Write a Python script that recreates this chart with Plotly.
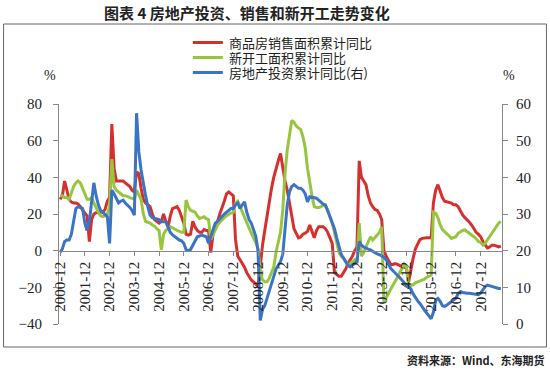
import plotly.graph_objects as go

# ---- data (Feb..Dec per year; Jan is merged into Feb in the source data) ----
years = list(range(2001, 2018))
months_2018 = list(range(2, 11))

sales_area = [
    28,                                                        # 2000-12
    30, 38, 32, 28, 26.5, 26, 26, 25.5, 24, 22, 20.5,          # 2001
    19, 5, 17, 20, 20.7, 20.7, 20.7, 21, 22.5, 27, 29,         # 2002
    69, 45, 38, 38, 38, 38, 37, 36, 35, 33, 32,                # 2003
    43, 42, 34, 28, 26, 25, 24, 20, 17, 16, 15,                # 2004
    16, 20, 16, 13, 19, 23, 23.5, 24, 22, 19, 15,              # 2005
    9, 8.5, 9, 16, 13, 11, 10, 10, 11.5, 11, 11,               # 2006
    -1, 9, 12, 16, 20, 23, 27, 31, 32, 31, 30,                 # 2007
    6, -3, -5, -7, -9, -12, -14, -16, -17, -18, -20,           # 2008
    -8, 3, 11, 19, 28, 34, 40, 45, 49, 53, 44,                 # 2009
    38, 33, 27, 19, 12, 9, 7, 7.5, 9, 9.5, 10.5,               # 2010
    14, 11, 7, 11, 13, 13, 13, 12, 10, 7, 4,                   # 2011
    -12, -13, -14, -14, -12, -10, -7, -5, -3, 0, 2,            # 2012
    49, 40, 38, 36, 30, 26, 24, 22.5, 22, 20, 17,              # 2013
    0, -3, -5.5, -7.5, -7.5, -7, -7.5, -8.3, -8.7, -9, -9.6,   # 2014
    -17, -10, -4, 1, 4, 6, 6.7, 7, 7, 7, 7,                    # 2015
    26, 33, 36, 32, 29, 27, 26.7, 26.5, 26, 25, 25,            # 2016
    24, 21.5, 19.5, 18, 17, 15.5, 14, 12, 10, 9, 7.6,          # 2017
    5, 3.5, 1.5, 2, 3, 3, 2.5, 2, 2.5,                         # 2018
]

new_starts = [
    30,                                                        # 2000-12
    30, 29, 29, 28, 32, 35, 37, 38, 37, 34, 31,                # 2001
    28, 28, 29, 26, 23, 21, 19, 18.5, 19, 20, 24,              # 2002
    50, 35, 33, 32, 31, 30, 30, 29.5, 29, 28.5, 28,            # 2003
    33, 30, 28, 20, 16, 15.5, 15, 14, 13.4, 12, 11,            # 2004
    0.5, 9, 11, 12, 13, 12.5, 11.5, 11, 10.5, 10, 10,          # 2005
    27.6, 24, 22, 21.5, 21, 19, 17.6, 18, 18.5, 17.5, 17,      # 2006
    6, 9, 12, 14, 15.5, 17, 18, 19, 20, 20.5, 21,              # 2007
    26, 27, 24, 21, 17.5, 14.5, 12, 9.5, 7, 4.5, 1,            # 2008
    -11, -16, -17, -17, -15, -12, -9, -1, 5, 10, 22,           # 2009
    42, 55, 64, 71, 70, 68, 67, 66, 62, 56, 45,                # 2010
    37, 30, 24, 23.5, 23.5, 24, 25, 24, 22, 19, 15,            # 2011
    10, 4, -1, -3, -4, -6, -8, -7, -6, -5, -7,                 # 2012
    15, -3, -1, 2, 5, 7.6, 5.8, 7, 8.5, 10, 13,                # 2013
    -27.8, -26, -23.5, -21, -19, -16.5, -14.5, -12, -9.5, -7.5, -9,  # 2014
    -20, -19, -18.5, -17.5, -17, -16.5, -16, -15.5, -14.5, -14, -13.3,  # 2015
    21, 20.5, 18, 14, 11.5, 10.4, 9.5, 8, 6.7, 7, 7.6,         # 2016
    9.5, 10.4, 11, 11.3, 10.5, 9.5, 8.5, 7.6, 6.5, 5, 4.5,     # 2017
    3, 4, 5.8, 7.5, 9, 11, 13, 15, 16,                         # 2018
]

investment = [
    19.5,                                                      # 2000-12
    20.5, 22.5, 22.9, 22.9, 24.5, 28, 31.5, 32, 31.8, 31.5, 27.5,   # 2001
    25.5, 28, 34, 38.5, 35, 32.5, 31, 30.5, 30, 29.3, 22,      # 2002
    36.5, 35.5, 34, 33, 33.5, 33.8, 33, 32.5, 31.8, 31, 29.7,  # 2003
    57.5, 47, 42, 38, 35, 32, 29.7, 29, 28.8, 28.8, 28.5,      # 2004
    27.9, 27.9, 27.9, 26.5, 25, 24.3, 23.8, 23.3, 22.9, 22.7, 22,   # 2005
    20.3, 20, 20.3, 21.5, 23, 23.8, 24, 24.3, 24, 23.8, 22,    # 2006
    24, 25.5, 27.5, 28, 28.8, 29.3, 30, 30.5, 31, 31.5, 31.5,  # 2007
    32.5, 33, 31.5, 32.5, 33.3, 30.5, 28.5, 27.5, 25.5, 24, 20,     # 2008
    1, 4, 5, 7, 9, 11.5, 13.5, 15, 16, 17, 19,                 # 2009
    27, 32.5, 36, 37.5, 38, 37.5, 37, 37, 36.5, 35.5, 33.3,    # 2010
    34.7, 34.5, 34.3, 34.3, 33.8, 33.3, 32.7, 32.5, 31, 29.5, 27.9, # 2011
    26, 23.5, 21, 19, 18, 17, 16, 15.6, 16, 16.5, 17,          # 2012
    22.5, 21.5, 21, 20.6, 20.4, 20.2, 19.8, 19.4, 19.1, 18.9, 18.6, # 2013
    18.2, 17.5, 16.3, 15.2, 14.5, 14, 13.3, 12.7, 12, 11.2, 10.6,   # 2014
    10.2, 9.5, 8.2, 7.1, 6.3, 5.6, 4.6, 3.8, 3, 2.2, 1.4,      # 2015
    3.2, 6.5, 7, 6.2, 5, 4.8, 5.2, 5.7, 6.2, 6.6, 7,           # 2016
    8.3, 8.8, 8.6, 8.4, 8.4, 8.4, 8.3, 8.1, 7.9, 8, 8.4,       # 2017
    9.5, 10.2, 10.6, 10.4, 10.2, 10, 9.8, 9.7, 9.7,            # 2018
]

series_names = ["商品房销售面积累计同比", "新开工面积累计同比", "房地产投资累计同比(右)"]
series_colors = ["#d6302e", "#98c53f", "#3a74c4"]
tick_labels = [f"{y}-12" for y in range(2000, 2018)]

# categories
months = ["2000-12"] + [f"{y}-{m:02d}" for y in years for m in range(2, 13)] + \
         [f"2018-{m:02d}" for m in months_2018]

# ---- layout geometry ----
W, H = 550, 372
L, R, T, B = 59, 47.5, 104, 48
pw, ph = W - L - R, H - T - B

def px_x(x):
    return (x - L) / pw

def px_y(y):
    return (H - B - y) / ph

fig = go.Figure()
for vals, name, col, ax in [
    (sales_area, series_names[0], series_colors[0], "y"),
    (new_starts, series_names[1], series_colors[1], "y"),
    (investment, series_names[2], series_colors[2], "y2"),
]:
    fig.add_trace(go.Scatter(x=months, y=vals, name=name, yaxis=ax, mode="lines",
                             line=dict(color=col, width=3), showlegend=False))

axis_font = dict(family="Liberation Serif, Times New Roman, serif", size=15, color="#222")
cjk = "Noto Sans CJK SC, sans-serif"

fig.update_layout(
    width=W, height=H,
    margin=dict(l=L, r=R, t=T, b=B, autoexpand=False),
    paper_bgcolor="white", plot_bgcolor="white",
    xaxis=dict(type="category", categoryorder="array", categoryarray=months,
               range=[-0.5, len(months) - 0.5],
               tickmode="array", tickvals=tick_labels, ticktext=tick_labels,
               tickangle=-90, tickfont=axis_font,
               ticks="outside", ticklen=4, tickcolor="#888",
               showline=True, linecolor="#888", linewidth=1,
               showgrid=False, zeroline=False,
               anchor="free", position=1/3, automargin=False),
    yaxis=dict(range=[-40, 80], tickvals=[-40, -20, 0, 20, 40, 60, 80],
               tickfont=axis_font, ticks="outside", ticklen=5, tickcolor="#888",
               showline=True, linecolor="#888", linewidth=1,
               showgrid=False, zeroline=False, ticklabelstandoff=8, automargin=False),
    yaxis2=dict(range=[0, 60], tickvals=[0, 10, 20, 30, 40, 50, 60],
                overlaying="y", side="right",
                tickfont=axis_font, ticks="outside", ticklen=5, tickcolor="#888",
                showline=True, linecolor="#888", linewidth=1,
                showgrid=False, zeroline=False, ticklabelstandoff=5, automargin=False),
)

# frame
fig.add_shape(type="rect", xref="paper", yref="paper",
              x0=px_x(3.5), x1=px_x(547), y0=px_y(347), y1=px_y(24),
              line=dict(color="#666", width=1), layer="below")

# legend (drawn manually to match the compact row spacing)
legend_rows = [42.5, 57.5, 72.5]
for name, col, yy in zip(series_names, series_colors, legend_rows):
    fig.add_shape(type="line", xref="paper", yref="paper",
                  x0=px_x(193), x1=px_x(223), y0=px_y(yy), y1=px_y(yy),
                  line=dict(color=col, width=3))
    fig.add_annotation(text=name, xref="paper", yref="paper",
                       x=px_x(228), y=px_y(yy), xanchor="left", yanchor="middle",
                       showarrow=False, width=170, height=15, align="left",
                       valign="middle", borderpad=0,
                       font=dict(family=cjk, size=13, color="#222"))

# title, units, source
fig.add_annotation(text="<b>图表 4 房地产投资、销售和新开工走势变化</b>",
                   xref="paper", yref="paper", x=px_x(247), y=px_y(12),
                   xanchor="center", yanchor="middle", showarrow=False,
                   font=dict(family=cjk, size=15, color="#222"))
fig.add_annotation(text="%", xref="paper", yref="paper", x=px_x(50), y=px_y(75),
                   xanchor="center", yanchor="middle", showarrow=False,
                   font=dict(family="Liberation Serif, serif", size=14, color="#222"))
fig.add_annotation(text="%", xref="paper", yref="paper", x=px_x(510), y=px_y(75),
                   xanchor="center", yanchor="middle", showarrow=False,
                   font=dict(family="Liberation Serif, serif", size=14, color="#222"))
fig.add_annotation(text="<b>资料来源：Wind、东海期货</b>", xref="paper", yref="paper",
                   x=px_x(548), y=px_y(360), xanchor="right", yanchor="middle",
                   showarrow=False, font=dict(family=cjk, size=11, color="#222"))

fig.write_html("out.html", config={"displayModeBar": False},
               post_script="document.body.style.margin='0px';")
